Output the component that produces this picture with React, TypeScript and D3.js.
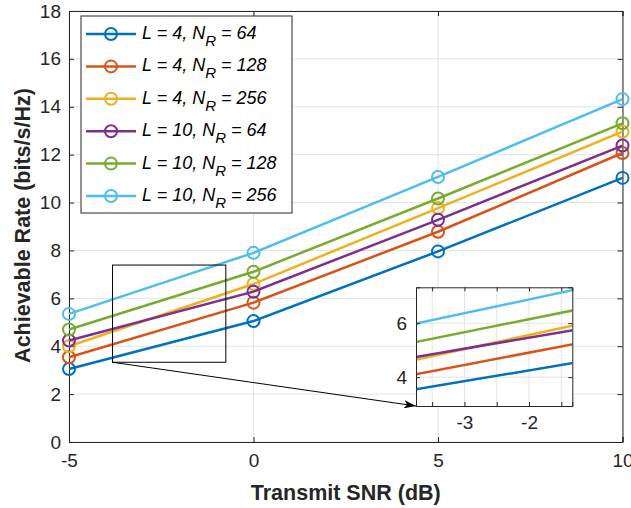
import React, { useRef, useEffect } from 'react';
import * as d3 from 'd3';

// transmit SNR (dB) and achievable rate (bits/s/Hz) per configuration
const snr = [-5, 0, 5, 10];
const rateL4N64 = [3.05, 5.05, 7.96, 11.03];
const rateL4N128 = [3.54, 5.82, 8.78, 12.07];
const rateL4N256 = [4.0, 6.6, 9.77, 12.96];
const rateL10N64 = [4.24, 6.28, 9.28, 12.38];
const rateL10N128 = [4.7, 7.11, 10.17, 13.31];
const rateL10N256 = [5.35, 7.9, 11.07, 14.32];

const seriesL = ['4', '4', '4', '10', '10', '10'];
const seriesN = ['64', '128', '256', '64', '128', '256'];
const colors = ['#0072BD', '#D95319', '#EDB120', '#7E2F8E', '#77AC30', '#4DBEEE'];

const xTicks = [-5, 0, 5, 10];
const yTicks = [0, 2, 4, 6, 8, 10, 12, 14, 16, 18];

// zoom window drawn on the main axes, and the inset's own limits
const zoomX = [-3.82, -0.75];
const zoomY = [3.33, 7.39];
const insetXDomain = [-3.75, -1.33];
const insetYDomain = [2.93, 7.33];
const insetXTicks = [-3.5, -3, -2.5, -2, -1.5];
const insetXLabels = ['', '-3', '', '-2', ''];
const insetYTicks = [4, 6];

const W = 631;
const H = 508;
const FONT = '"Liberation Sans", Arial, Helvetica, sans-serif';
const AX = '#262626';
const GRID = '#e3e3e3';

const Chart = () => {
  const svgRef = useRef<SVGSVGElement>(null);

  useEffect(() => {
    const svg = d3.select(svgRef.current);
    svg.selectAll('*').remove();

    const series = [rateL4N64, rateL4N128, rateL4N256, rateL10N64, rateL10N128, rateL10N256];
    const m = { left: 69, right: 8.5, top: 11, bottom: 66 };
    const iw = W - m.left - m.right;
    const ih = H - m.top - m.bottom;

    const x = d3.scaleLinear().domain([-5, 10]).range([m.left, m.left + iw]);
    const y = d3.scaleLinear().domain([0, 18]).range([m.top + ih, m.top]);

    svg.append('rect').attr('width', W).attr('height', H).attr('fill', '#fff');

    // grid
    const g = svg.append('g');
    g.selectAll('.gx').data(xTicks).enter().append('line')
      .attr('x1', d => x(d)).attr('x2', d => x(d))
      .attr('y1', m.top).attr('y2', m.top + ih)
      .attr('stroke', GRID).attr('stroke-width', 1);
    g.selectAll('.gy').data(yTicks).enter().append('line')
      .attr('x1', m.left).attr('x2', m.left + iw)
      .attr('y1', d => y(d)).attr('y2', d => y(d))
      .attr('stroke', GRID).attr('stroke-width', 1);

    // axes with inward ticks on all sides
    const fmt = (d: any) => String(d);
    const axB = svg.append('g').attr('transform', `translate(0,${m.top + ih})`)
      .call(d3.axisBottom(x).tickValues(xTicks).tickSize(-5).tickPadding(12).tickFormat(fmt));
    const axL = svg.append('g').attr('transform', `translate(${m.left},0)`)
      .call(d3.axisLeft(y).tickValues(yTicks).tickSize(-5).tickPadding(8).tickFormat(fmt));
    const axT = svg.append('g').attr('transform', `translate(0,${m.top})`)
      .call(d3.axisTop(x).tickValues(xTicks).tickSize(-5).tickFormat(() => ''));
    const axR = svg.append('g').attr('transform', `translate(${m.left + iw},0)`)
      .call(d3.axisRight(y).tickValues(yTicks).tickSize(-5).tickFormat(() => ''));
    [axB, axL, axT, axR].forEach(a => {
      a.selectAll('path,line').attr('stroke', AX);
      a.selectAll('text').attr('fill', AX).style('font-family', FONT).style('font-size', '19px');
    });

    const line = d3.line<number>().x((_, i) => x(snr[i])).y(d => y(d));

    series.forEach((s, k) => {
      svg.append('path').datum(s).attr('d', line)
        .attr('fill', 'none').attr('stroke', colors[k]).attr('stroke-width', 2.5);
      svg.selectAll(`.mk${k}`).data(s).enter().append('circle')
        .attr('cx', (_, i) => x(snr[i])).attr('cy', d => y(d)).attr('r', 6)
        .attr('fill', 'none').attr('stroke', colors[k]).attr('stroke-width', 2);
    });

    // zoom window and arrow
    svg.append('rect')
      .attr('x', x(zoomX[0])).attr('y', y(zoomY[1]))
      .attr('width', x(zoomX[1]) - x(zoomX[0])).attr('height', y(zoomY[0]) - y(zoomY[1]))
      .attr('fill', 'none').attr('stroke', '#000').attr('stroke-width', 1);

    const inset = { left: 416, top: 287.3, right: 572.3, bottom: 406 };
    const xi = d3.scaleLinear().domain(insetXDomain).range([inset.left, inset.right]);
    const yi = d3.scaleLinear().domain(insetYDomain).range([inset.bottom, inset.top]);

    svg.append('defs').html(
      `<marker id="arr" viewBox="0 0 12 8" refX="12" refY="4" markerWidth="12" markerHeight="8" markerUnits="userSpaceOnUse" orient="auto"><path d="M0,0 L12,4 L0,8 L3,4 Z" fill="#000"/></marker>` +
      `<clipPath id="insetClip"><rect x="${inset.left}" y="${inset.top}" width="${inset.right - inset.left}" height="${inset.bottom - inset.top}"/></clipPath>`
    );
    svg.append('line')
      .attr('x1', x(zoomX[0])).attr('y1', y(zoomY[0]))
      .attr('x2', inset.left).attr('y2', inset.bottom)
      .attr('stroke', '#000').attr('stroke-width', 1).attr('marker-end', 'url(#arr)');

    // inset axes
    const ig = svg.append('g');
    ig.append('rect').attr('x', inset.left).attr('y', inset.top)
      .attr('width', inset.right - inset.left).attr('height', inset.bottom - inset.top).attr('fill', '#fff');
    ig.selectAll('.igx').data(insetXTicks).enter().append('line')
      .attr('x1', d => xi(d)).attr('x2', d => xi(d)).attr('y1', inset.top).attr('y2', inset.bottom)
      .attr('stroke', GRID);
    ig.selectAll('.igy').data(insetYTicks).enter().append('line')
      .attr('x1', inset.left).attr('x2', inset.right).attr('y1', d => yi(d)).attr('y2', d => yi(d))
      .attr('stroke', GRID);

    const iline = d3.line<number>().x((_, i) => xi(snr[i])).y(d => yi(d));
    const clipped = ig.append('g').attr('clip-path', 'url(#insetClip)');
    series.forEach((s, k) => {
      clipped.append('path').datum(s).attr('d', iline)
        .attr('fill', 'none').attr('stroke', colors[k]).attr('stroke-width', 2.5);
    });

    const iaB = ig.append('g').attr('transform', `translate(0,${inset.bottom})`)
      .call(d3.axisBottom(xi).tickValues(insetXTicks).tickSize(-4).tickPadding(10)
        .tickFormat((_, i) => insetXLabels[i]));
    const iaL = ig.append('g').attr('transform', `translate(${inset.left},0)`)
      .call(d3.axisLeft(yi).tickValues(insetYTicks).tickSize(-4).tickPadding(9).tickFormat(fmt));
    const iaT = ig.append('g').attr('transform', `translate(0,${inset.top})`)
      .call(d3.axisTop(xi).tickValues(insetXTicks).tickSize(-4).tickFormat(() => ''));
    const iaR = ig.append('g').attr('transform', `translate(${inset.right},0)`)
      .call(d3.axisRight(yi).tickValues(insetYTicks).tickSize(-4).tickFormat(() => ''));
    [iaB, iaL, iaT, iaR].forEach(a => {
      a.selectAll('path,line').attr('stroke', AX);
      a.selectAll('text').attr('fill', AX).style('font-family', FONT).style('font-size', '19px');
    });

    // axis titles
    svg.append('text').attr('x', m.left + iw / 2).attr('y', 500)
      .attr('text-anchor', 'middle').attr('fill', AX)
      .style('font-family', FONT).style('font-size', '21.5px').style('font-weight', 'bold')
      .text('Transmit SNR (dB)');
    svg.append('text').attr('transform', `translate(30,${m.top + ih / 2 - 1}) rotate(-90)`)
      .attr('text-anchor', 'middle').attr('fill', AX)
      .style('font-family', FONT).style('font-size', '21.5px').style('font-weight', 'bold')
      .text('Achievable Rate (bits/s/Hz)');

    // legend
    const lg = svg.append('g');
    lg.append('rect').attr('x', 81).attr('y', 16).attr('width', 211).attr('height', 197)
      .attr('fill', '#fff').attr('stroke', AX).attr('stroke-width', 1);
    seriesL.forEach((L, k) => {
      const ly = 34 + k * 32.4;
      lg.append('line').attr('x1', 86).attr('x2', 136).attr('y1', ly).attr('y2', ly)
        .attr('stroke', colors[k]).attr('stroke-width', 2.5);
      lg.append('circle').attr('cx', 111).attr('cy', ly).attr('r', 6)
        .attr('fill', 'none').attr('stroke', colors[k]).attr('stroke-width', 2);
      const t = lg.append('text').attr('x', 142).attr('y', ly + 5).attr('fill', '#000')
        .style('font-family', FONT).style('font-size', '18px').style('font-style', 'italic');
      t.append('tspan').text(`L = ${L}, N`);
      t.append('tspan').attr('dy', 7).style('font-size', '15px').text('R');
      t.append('tspan').attr('dy', -7).text(` = ${seriesN[k]}`);
    });
  }, []);

  return <svg ref={svgRef} width={W} height={H} style={{ display: 'block' }} />;
};

export default function App() {
  return (
    <div style={{ position: 'absolute', left: 0, top: 0 }}>
      <Chart />
    </div>
  );
}
